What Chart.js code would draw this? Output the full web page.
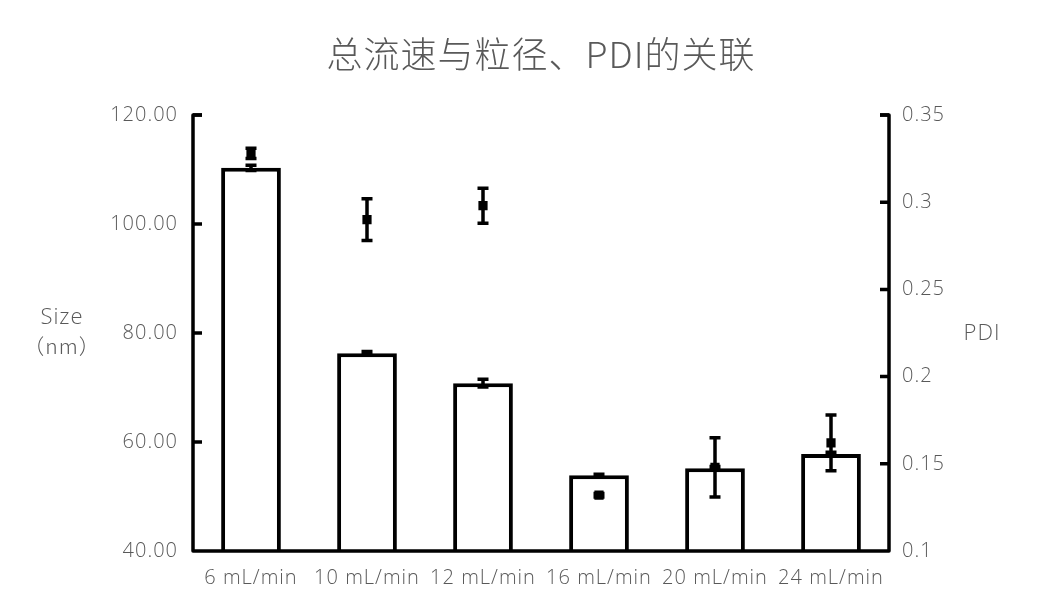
<!DOCTYPE html>
<html>
<head>
<meta charset="utf-8">
<style>
  html, body { margin: 0; padding: 0; background: #ffffff; }
  #wrap { width: 1051px; height: 591px; position: relative; }
</style>
<script src="https://cdn.jsdelivr.net/npm/chart.js@4.4.1/dist/chart.umd.min.js"></script>
</head>
<body>
<div id="wrap"><canvas id="chart" width="1051" height="591"></canvas></div>
<script>
// Flow-rate categories
const categories = ['6 mL/min', '10 mL/min', '12 mL/min', '16 mL/min', '20 mL/min', '24 mL/min'];
// Particle size (nm) and its standard deviation
const sizeValues = [110.3, 76.3, 70.8, 53.9, 55.2, 57.8];
const sizeErrors = [0.5, 0.3, 0.7, 0.2, 0.3, 0.3];
// Polydispersity index and its standard deviation
const pdiValues = [0.328, 0.290, 0.298, 0.132, 0.148, 0.162];
const pdiErrors = [0.003, 0.012, 0.010, 0.001, 0.017, 0.016];
// Axis tick values and labels
const sizeTicks = [40, 60, 80, 100, 120];
const sizeTickLabels = ['40.00', '60.00', '80.00', '100.00', '120.00'];
const pdiTicks = [0.1, 0.15, 0.2, 0.25, 0.3, 0.35];
const pdiTickLabels = ['0.1', '0.15', '0.2', '0.25', '0.3', '0.35'];

const LATIN = '"Open Sans", "Noto Sans", sans-serif';
const CJK = '"Noto Sans CJK SC", sans-serif';
const TEXT = '#595959';
const INK = '#000000';

// Slightly open letter spacing for all chart text
const spacing = {
  id: 'spacing',
  beforeDraw(chart) { chart.ctx.letterSpacing = '1px'; }
};

// Axis lines, inward tick marks, error bars and side captions
const decorations = {
  id: 'decorations',
  afterDatasetsDraw(chart) {
    const ctx = chart.ctx;
    const area = chart.chartArea;
    const x = chart.scales.x, y = chart.scales.y, y1 = chart.scales.y1;
    ctx.save();
    ctx.strokeStyle = INK;
    ctx.lineCap = 'butt';
    ctx.lineJoin = 'round';

    // error bars
    const drawErr = (scale, vals, errs) => {
      ctx.lineWidth = 3.5;
      vals.forEach((v, i) => {
        const cx = x.getPixelForValue(i);
        const top = scale.getPixelForValue(v + errs[i]);
        const bot = scale.getPixelForValue(v - errs[i]);
        ctx.beginPath();
        ctx.moveTo(cx, top); ctx.lineTo(cx, bot);
        ctx.moveTo(cx - 5.5, top); ctx.lineTo(cx + 5.5, top);
        ctx.moveTo(cx - 5.5, bot); ctx.lineTo(cx + 5.5, bot);
        ctx.stroke();
      });
    };
    drawErr(y, sizeValues, sizeErrors);
    drawErr(y1, pdiValues, pdiErrors);

    // frame: left axis, bottom axis, right axis
    ctx.lineWidth = 3.5;
    ctx.beginPath();
    ctx.moveTo(area.left + 9, area.top);
    ctx.lineTo(area.left, area.top);
    ctx.lineTo(area.left, area.bottom);
    ctx.lineTo(area.right, area.bottom);
    ctx.lineTo(area.right, area.top);
    ctx.lineTo(area.right - 9, area.top);
    ctx.stroke();

    // inward tick marks
    ctx.beginPath();
    sizeTicks.forEach(v => {
      if (v === sizeTicks[0]) return;
      const py = y.getPixelForValue(v);
      ctx.moveTo(area.left, py); ctx.lineTo(area.left + 9, py);
    });
    pdiTicks.forEach(v => {
      if (v === pdiTicks[0]) return;
      const py = y1.getPixelForValue(v);
      ctx.moveTo(area.right, py); ctx.lineTo(area.right - 9, py);
    });
    ctx.stroke();

    // side captions
    ctx.fillStyle = TEXT;
    ctx.textAlign = 'center';
    ctx.textBaseline = 'middle';
    ctx.font = '300 22px ' + LATIN;
    ctx.fillText('Size', 62, 318);
    ctx.font = '300 21px ' + CJK;
    ctx.fillText('（nm）', 62, 346);
    ctx.font = '300 22px ' + LATIN;
    ctx.fillText('PDI', 982, 334);
    ctx.restore();
  }
};

new Chart(document.getElementById('chart'), {
  data: {
    labels: categories,
    datasets: [
      {
        type: 'line',
        label: 'PDI',
        data: pdiValues,
        yAxisID: 'y1',
        showLine: false,
        pointStyle: 'rect',
        pointRadius: 6.5,
        pointBackgroundColor: INK,
        pointBorderColor: INK,
        pointBorderWidth: 0,
        order: 0
      },
      {
        type: 'bar',
        label: 'Size',
        data: sizeValues,
        yAxisID: 'y',
        backgroundColor: '#ffffff',
        borderColor: INK,
        borderWidth: 4,
        borderSkipped: false,
        barPercentage: 0.515,
        categoryPercentage: 1,
        order: 1
      }
    ]
  },
  options: {
    responsive: false,
    animation: false,
    devicePixelRatio: 1,
    layout: { padding: { left: 0, right: 0, top: 0, bottom: 0 } },
    plugins: {
      legend: { display: false },
      tooltip: { enabled: false },
      title: {
        display: true,
        fullSize: false,
        text: '总流速与粒径、PDI的关联',
        color: TEXT,
        font: { family: CJK, size: 36, weight: '300', lineHeight: 1.2 },
        padding: { top: 33, bottom: 38.8 }
      }
    },
    scales: {
      x: {
        offset: true,
        grid: { display: false, drawTicks: false },
        border: { display: false },
        ticks: {
          color: TEXT,
          font: { family: LATIN, size: 20, weight: '300' },
          autoSkip: false,
          maxRotation: 0,
          minRotation: 0,
          padding: 15
        },
        afterFit(scale) { scale.height = 40; }
      },
      y: {
        position: 'left',
        min: 40,
        max: 120,
        grid: { display: false, drawTicks: false },
        border: { display: false },
        afterBuildTicks(scale) { scale.ticks = sizeTicks.map(v => ({ value: v })); },
        ticks: {
          color: TEXT,
          font: { family: LATIN, size: 20, weight: '300' },
          padding: 15,
          callback(value) { return sizeTickLabels[sizeTicks.indexOf(value)]; }
        },
        afterFit(scale) { scale.width = 193; }
      },
      y1: {
        position: 'right',
        min: 0.1,
        max: 0.35,
        grid: { display: false, drawTicks: false },
        border: { display: false },
        afterBuildTicks(scale) { scale.ticks = pdiTicks.map(v => ({ value: v })); },
        ticks: {
          color: TEXT,
          font: { family: LATIN, size: 20, weight: '300' },
          padding: 13,
          callback(value) {
            const i = pdiTicks.findIndex(t => Math.abs(t - value) < 1e-9);
            return pdiTickLabels[i];
          }
        },
        afterFit(scale) { scale.width = 162; }
      }
    }
  },
  plugins: [spacing, decorations]
});
</script>
</body>
</html>
